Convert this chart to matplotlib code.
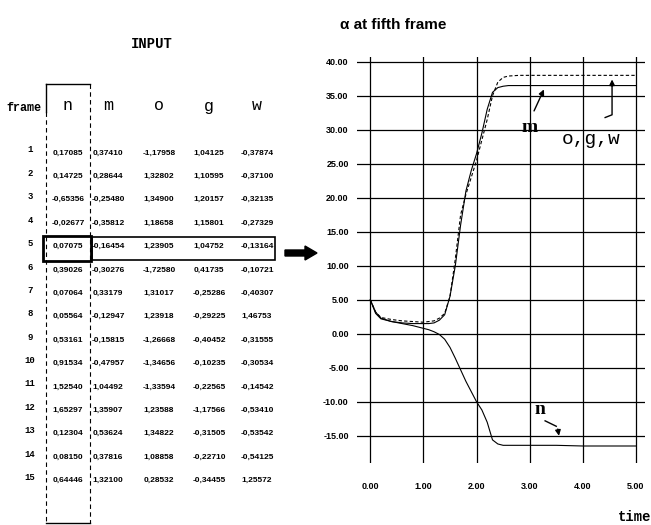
import numpy as np
import matplotlib.pyplot as plt
from matplotlib.patches import Rectangle, FancyArrow

# table data (frame 1..15)
frames = list(range(1, 16))
cols = ['n', 'm', 'o', 'g', 'w']
val_n = ['0,17085', '0,14725', '-0,65356', '-0,02677', '0,07075', '0,39026', '0,07064', '0,05564',
         '0,53161', '0,91534', '1,52540', '1,65297', '0,12304', '0,08150', '0,64446']
val_m = ['0,37410', '0,28644', '-0,25480', '-0,35812', '-0,16454', '-0,30276', '0,33179', '-0,12947',
         '-0,15815', '-0,47957', '1,04492', '1,35907', '0,53624', '0,37816', '1,32100']
val_o = ['-1,17958', '1,32802', '1,34900', '1,18658', '1,23905', '-1,72580', '1,31017', '1,23918',
         '-1,26668', '-1,34656', '-1,33594', '1,23588', '1,34822', '1,08858', '0,28532']
val_g = ['1,04125', '1,10595', '1,20157', '1,15801', '1,04752', '0,41735', '-0,25286', '-0,29225',
         '-0,40452', '-0,10235', '-0,22565', '-1,17566', '-0,31505', '-0,22710', '-0,34455']
val_w = ['-0,37874', '-0,37100', '-0,32135', '-0,27329', '-0,13164', '-0,10721', '-0,40307', '1,46753',
         '-0,31555', '-0,30534', '-0,14542', '-0,53410', '-0,53542', '-0,54125', '1,25572']

# alpha curves at fifth frame
time = [0.0, 0.1, 0.2, 0.4, 0.6, 0.8, 1.0, 1.1, 1.2, 1.3, 1.4, 1.5, 1.6, 1.7, 1.8, 1.9,
        2.0, 2.1, 2.2, 2.3, 2.4, 2.5, 2.6, 2.8, 3.0, 3.5, 4.0, 4.5, 5.0]
alpha_n = [5.0, 3.2, 2.3, 1.8, 1.5, 1.2, 0.8, 0.6, 0.3, -0.1, -0.8, -2.0, -3.6, -5.3, -7.0, -8.5,
           -10.0, -11.2, -13.0, -15.6, -16.2, -16.4, -16.4, -16.4, -16.4, -16.4, -16.5, -16.5, -16.5]
alpha_m = [5.0, 3.0, 2.2, 1.8, 1.6, 1.5, 1.5, 1.5, 1.6, 2.0, 2.8, 5.5, 10.0, 16.0, 21.0, 24.0,
           26.5, 29.5, 33.0, 35.5, 36.2, 36.4, 36.5, 36.5, 36.5, 36.5, 36.5, 36.5, 36.5]
alpha_ogw = [5.0, 3.2, 2.4, 2.1, 1.9, 1.8, 1.7, 1.8, 1.9, 2.3, 3.0, 5.5, 11.0, 17.5, 20.5, 23.0,
             25.5, 28.5, 31.5, 35.0, 37.0, 37.7, 37.9, 38.0, 38.0, 38.0, 38.0, 38.0, 38.0]

mono = 'Liberation Mono'
sans = 'Liberation Sans'

fig = plt.figure(figsize=(6.51, 5.25), dpi=100)

# overlay in pixel coordinates for the table side
ov = fig.add_axes([0, 0, 1, 1])
ov.set_xlim(0, 651)
ov.set_ylim(525, 0)
ov.axis('off')

ov.text(152, 44, 'INPUT', family=mono, weight='bold', fontsize=10, ha='center', va='center')
ov.text(6, 108, 'frame', family=mono, weight='bold', fontsize=8.5, ha='left', va='center')
col_x = [68, 108, 159, 209, 257]
for x, c in zip(col_x, cols):
    ov.text(x, 106, c, family=mono, fontsize=12, ha='center', va='center')

row_y = [153 + 23.4 * i for i in range(len(frames))]
for y, f, a, b, c, d, e in zip(row_y, frames, val_n, val_m, val_o, val_g, val_w):
    ov.text(30, y - 3, str(f), family=mono, weight='bold', fontsize=6.5, ha='center', va='center')
    for x, v in zip(col_x, [a, b, c, d, e]):
        ov.text(x, y, v, family=sans, weight='bold', fontsize=6, ha='center', va='center')

# column n frame
ov.plot([46, 90], [84, 84], color='black', lw=1)
ov.plot([46, 46], [84, 112], color='black', lw=1)
ov.plot([46, 46], [112, 523], color='black', lw=0.8, ls=(0, (4, 3)))
ov.plot([90, 90], [84, 523], color='black', lw=0.8, ls=(0, (4, 3)))
ov.plot([46, 90], [523, 523], color='black', lw=1)

# highlighted fifth frame
ov.add_patch(Rectangle((43, 236), 48, 25, fill=False, ec='black', lw=2))
ov.add_patch(Rectangle((92, 237), 183, 23, fill=False, ec='black', lw=1.2))

ov.add_patch(FancyArrow(285, 253, 32, 0, width=6, head_width=14, head_length=12,
                        length_includes_head=True, color='black'))

ov.text(340, 25, '\u03b1 at fifth frame', family=sans, weight='bold', fontsize=11,
        ha='left', va='center')
ov.text(651, 517, 'time', family=mono, weight='bold', fontsize=10, ha='right', va='center')

# chart
ax = fig.add_axes([357 / 651, 1 - 463 / 525, (645 - 357) / 651, (463 - 57) / 525])
ax.plot(time, alpha_n, color='black', lw=0.8)
ax.plot(time, alpha_m, color='black', lw=0.8)
ax.plot(time, alpha_ogw, color='black', lw=0.8, ls=(0, (3, 2)))
ax.set_xlim(-0.25, 5.17)
ax.set_ylim(-19, 40.7)
ax.set_xticks(np.arange(0, 6, 1))
ax.set_yticks(np.arange(-15, 45, 5))
ax.set_xticklabels(['%.2f' % v for v in np.arange(0, 6, 1)], family=sans, weight='bold', fontsize=6.5)
ax.set_yticklabels(['%.2f' % v for v in np.arange(-15, 45, 5)], family=sans, weight='bold', fontsize=6.5)
ax.tick_params(length=0)
ax.tick_params(axis='x', pad=14)
ax.tick_params(axis='y', pad=6)
ax.grid(True, color='black', lw=0.9)
for s in ax.spines.values():
    s.set_visible(False)
ax.patch.set_alpha(0)

ax.text(3.0, 30.3, 'm', family='Liberation Serif', weight='bold', fontsize=14, ha='center', va='center')
ax.annotate('', xy=(3.29, 36.3), xytext=(3.06, 32.4),
            arrowprops=dict(arrowstyle='-|>', color='black', lw=1, mutation_scale=8))
ax.text(3.6, 28.5, 'o,g,w', family=mono, fontsize=14, ha='left', va='center')
ax.plot([4.42, 4.55, 4.55], [31.8, 32.2, 36.5], color='black', lw=1)
ax.annotate('', xy=(4.55, 37.8), xytext=(4.55, 36.0),
            arrowprops=dict(arrowstyle='-|>', color='black', lw=1, mutation_scale=8))
ax.text(3.2, -11.2, 'n', family='Liberation Serif', weight='bold', fontsize=14, ha='center', va='center')
ax.plot([3.29, 3.5], [-12.8, -13.6], color='black', lw=1)
ax.annotate('', xy=(3.56, -15.4), xytext=(3.52, -13.6),
            arrowprops=dict(arrowstyle='-|>', color='black', lw=1, mutation_scale=8))

fig.savefig('out.png', dpi=100)
